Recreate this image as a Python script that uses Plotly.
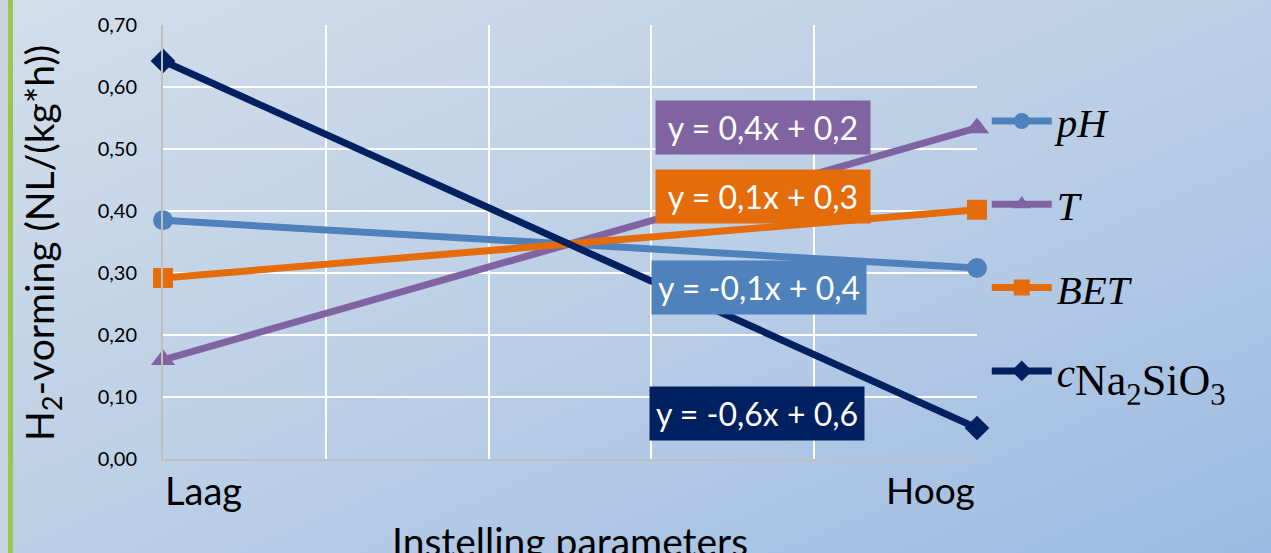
import base64
import plotly.graph_objects as go

# ---- data ----
categories = ["Laag", "Hoog"]
x_positions = [0, 1]
series_names = ["<i>pH</i>", "<i>T</i>", "<i>BET</i>",
                "<i>c</i><sub><span style='font-size:44px'>Na<sub>2</sub>SiO<sub>3</sub></span></sub>"]
ph_values = [0.385, 0.308]
t_values = [0.160, 0.534]
bet_values = [0.292, 0.402]
c_values = [0.642, 0.050]
equations = ["y = 0,4x + 0,2", "y = 0,1x + 0,3", "y = -0,1x + 0,4", "y = -0,6x + 0,6"]
y_ticks = [0.0, 0.1, 0.2, 0.3, 0.4, 0.5, 0.6, 0.7]
x_grid = [0, 0.2, 0.4, 0.6, 0.8, 1.0]

colors = {"pH": "#4F81BD", "T": "#8064A2", "BET": "#E46C0A", "C": "#002060"}

W, H = 1271, 553
L, R, T, B = 163, 294, 25, 94
pw, ph = W - L - R, H - T - B

# background gradient as an svg image
svg = f'''<svg xmlns="http://www.w3.org/2000/svg" width="{W}" height="{H}" viewBox="0 0 {W} {H}" preserveAspectRatio="none">
<defs><linearGradient id="g" x1="0" y1="0" x2="1" y2="1">
<stop offset="0" stop-color="#d3deeb"/><stop offset="0.5" stop-color="#bccfe6"/><stop offset="1" stop-color="#9dbbe3"/></linearGradient></defs>
<rect width="{W}" height="{H}" fill="url(#g)"/>
<rect x="0" y="0" width="8" height="{H}" fill="#c9d4e3"/>
<rect x="8" y="0" width="5" height="{H}" fill="#9cc84a"/>
</svg>'''
src = "data:image/svg+xml;base64," + base64.b64encode(svg.encode()).decode()

fig = go.Figure()

specs = [
    ("pH", ph_values, "circle", 20),
    ("T", t_values, "triangle-up", 21),
    ("BET", bet_values, "square", 20),
    ("C", c_values, "diamond", 19),
]
for i, (key, vals, sym, size) in enumerate(specs):
    fig.add_trace(go.Scatter(
        x=x_positions, y=vals, mode="lines+markers", name=series_names[i],
        legendgroup=key,
        line=dict(color=colors[key], width=7),
        marker=dict(symbol=sym, size=size, color=colors[key]),
        cliponaxis=False,
    ))

# equation labels
eq_pos = [(0.737, 0.534, "T"), (0.737, 0.4226, "BET"), (0.732, 0.277, "pH"), (0.730, 0.074, "C")]
for txt, (xp, yp, key) in zip(equations, eq_pos):
    fig.add_annotation(x=xp, y=yp, xref="x", yref="y", text=txt, showarrow=False,
                       bgcolor=colors[key], width=210, height=49, borderpad=2,
                       font=dict(family="Lato", size=32, color="white"))

# category labels
fig.add_annotation(x=x_positions[0], y=-0.0714, xref="x", yref="paper", text=categories[0],
                   showarrow=False, xanchor="left", yanchor="middle",
                   font=dict(family="Lato", size=38, color="#000000"))
fig.add_annotation(x=x_positions[1], y=-0.0714, xref="x", yref="paper", text=categories[1],
                   showarrow=False, xanchor="right", yanchor="middle",
                   font=dict(family="Lato", size=37, color="#000000"))

# axis titles
fig.add_annotation(x=-0.1486, y=0.4977, xref="paper", yref="paper",
                   text="H<sub>2</sub>-vorming (NL/(kg*h))", textangle=-90,
                   showarrow=False, xanchor="center", yanchor="middle",
                   font=dict(family="Lato", size=39, color="#000000"))
fig.add_annotation(x=0.5, y=-0.132, xref="paper", yref="paper",
                   text="Instelling parameters", showarrow=False,
                   xanchor="center", yanchor="top",
                   font=dict(family="Lato", size=39, color="#000000"))

fig.update_layout(
    width=W, height=H,
    margin=dict(l=L, r=R, t=T, b=B, pad=0),
    paper_bgcolor="rgba(0,0,0,0)", plot_bgcolor="rgba(0,0,0,0)",
    separators=",.",
    images=[dict(source=src, xref="paper", yref="paper",
                 x=-L / pw, y=1 + T / ph, sizex=W / pw, sizey=H / ph,
                 xanchor="left", yanchor="top", sizing="stretch", layer="below")],
    xaxis=dict(range=[0, 1], tickvals=x_grid, showticklabels=False,
               showgrid=True, gridcolor="white", gridwidth=2,
               showline=True, linecolor="#BFBFBF", linewidth=2,
               zeroline=False, ticks=""),
    yaxis=dict(range=[0, 0.7], tickvals=y_ticks, tickformat=".2f",
               showgrid=True, gridcolor="white", gridwidth=2,
               showline=True, linecolor="#BFBFBF", linewidth=2,
               zeroline=False, ticks="", ticklabelstandoff=20,
               tickfont=dict(family="Lato", size=20, color="#000000")),
    legend=dict(x=1.012, y=0.49, xanchor="left", yanchor="middle",
                bgcolor="rgba(0,0,0,0)", tracegroupgap=27,
                font=dict(family="Liberation Serif", size=41, color="#000000"),
                itemwidth=60),
    showlegend=True,
)

fig.write_html("out.html", config={"displayModeBar": False},
               post_script="document.body.style.margin='0';document.body.style.overflow='hidden';")
